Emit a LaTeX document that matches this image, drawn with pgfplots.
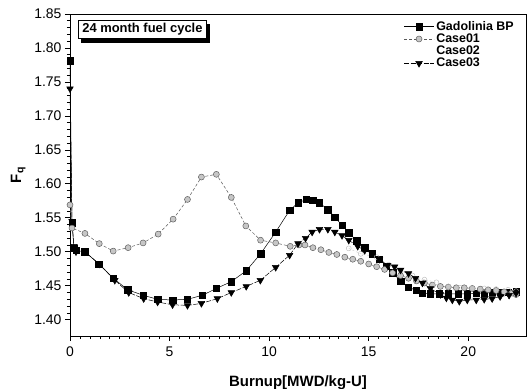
\documentclass[border=0pt]{standalone}
\usepackage{pgfplots}
\pgfplotsset{compat=1.18}
\usepackage{fontspec}
\setmainfont{Liberation Sans}
\setsansfont{Liberation Sans}
\usetikzlibrary{shadows}

\pgfplotstableread{
x y
0 1.781
0.1 1.543
0.2 1.505
0.3 1.502
0.75 1.500
1.45 1.482
2.17 1.461
2.9 1.444
3.67 1.436
4.4 1.430
5.15 1.429
5.9 1.430
6.65 1.436
7.35 1.446
8.1 1.456
8.85 1.472
9.57 1.497
10.33 1.529
11.03 1.561
11.45 1.572
11.87 1.577
12.2 1.576
12.53 1.572
12.95 1.562
13.3 1.551
13.66 1.539
14.0 1.528
14.4 1.516
14.8 1.506
15.17 1.497
15.54 1.489
15.88 1.479
16.2 1.469
16.6 1.457
17.0 1.448
17.38 1.443
17.7 1.439
18.1 1.438
18.55 1.438
19.0 1.438
19.5 1.438
19.95 1.438
20.4 1.439
20.8 1.439
21.2 1.440
21.6 1.440
22.0 1.440
22.4 1.441
}\gadolinia

\pgfplotstableread{
x y
0 1.569
0.1 1.535
0.75 1.527
1.47 1.512
2.17 1.501
2.92 1.506
3.67 1.513
4.43 1.526
5.18 1.548
5.9 1.577
6.6 1.610
7.35 1.614
8.1 1.580
8.83 1.538
9.57 1.517
10.33 1.513
11.06 1.508
11.5 1.510
11.8 1.510
12.2 1.506
12.6 1.503
13.0 1.499
13.4 1.496
13.8 1.492
14.2 1.489
14.6 1.486
15.0 1.482
15.4 1.478
15.8 1.474
16.2 1.469
16.6 1.465
17.0 1.461
17.4 1.457
17.8 1.454
18.2 1.451
18.6 1.449
19.0 1.448
19.4 1.447
19.8 1.447
20.2 1.446
20.6 1.445
21.0 1.444
21.4 1.443
21.8 1.441
22.2 1.439
22.4 1.437
}\caseone

\pgfplotstableread{
x y
14.0 1.505
14.6 1.497
15.4 1.492
16.0 1.481
16.6 1.472
17.2 1.465
17.8 1.459
18.4 1.455
19.0 1.449
19.6 1.447
20.2 1.446
20.8 1.446
21.4 1.445
22.0 1.444
22.4 1.442
}\casetwo

\pgfplotstableread{
x y
0 1.740
0.1 1.545
0.2 1.508
0.3 1.500
0.75 1.500
1.47 1.482
2.25 1.458
2.95 1.440
3.7 1.431
4.4 1.426
5.15 1.422
5.9 1.421
6.6 1.424
7.4 1.431
8.1 1.440
8.85 1.449
9.56 1.458
10.33 1.477
11.03 1.495
11.45 1.512
11.83 1.520
12.16 1.529
12.53 1.533
12.95 1.533
13.3 1.529
13.66 1.524
14.0 1.517
14.45 1.508
14.8 1.502
15.17 1.498
15.54 1.489
15.95 1.480
16.3 1.478
16.6 1.473
17.0 1.468
17.35 1.461
17.7 1.454
18.1 1.446
18.6 1.437
18.9 1.432
19.2 1.429
19.55 1.427
19.95 1.429
20.4 1.429
20.8 1.430
21.2 1.431
21.6 1.434
22.05 1.436
22.4 1.439
}\casethree

\begin{document}
\begin{tikzpicture}
\begin{axis}[
    scale only axis,
    width=456bp, height=322bp,
    xmin=0, xmax=22.9,
    ymin=1.376, ymax=1.85,
    xtick={0,5,10,15,20},
    ytick={1.40,1.45,1.50,1.55,1.60,1.65,1.70,1.75,1.80,1.85},
    minor x tick num=9,
    minor y tick num=4,
    tick pos=left,
    tick align=outside,
    major tick length=5bp,
    minor tick length=3bp,
    every tick/.style={black, line width=0.7pt},
    axis line style={line width=1pt},
    yticklabel style={/pgf/number format/.cd, fixed, fixed zerofill, precision=2},
    /pgf/number format/assume math mode=true,
    ticklabel style={font=\fontsize{14}{16}\selectfont},
    xticklabel style={yshift=-2bp},
    xlabel={\textbf{Burnup[MWD/kg-U]}},
    ylabel={\textbf{F$_{\mathbf{q}}$}},
    label style={font=\fontsize{15}{17}\selectfont},
    xlabel style={yshift=-12bp},
    ylabel style={yshift=2bp},
    legend style={draw=none, fill=none, at={(rel axis cs:0.725,0.99)}, anchor=north west,
        font=\bfseries\fontsize{12.5}{14}\selectfont, row sep=-2bp},
    legend cell align=left,
    legend image code/.code={\draw[mark repeat=2, mark phase=2] plot coordinates {(0bp,0bp) (15bp,0bp) (30bp,0bp)};},
    clip=true,
]
\addplot[black, line width=0.5pt, mark=square*, mark size=3.2bp, mark options={solid, fill=black}]
    table[x=x, y=y] {\gadolinia};
\addlegendentry{Gadolinia BP}
\addplot[gray!70!black, line width=0.5pt, dash pattern=on 3bp off 2bp, mark=*, mark size=3bp,
    mark options={solid, fill=gray!45, draw=gray!75!black}]
    table[x=x, y=y] {\caseone};
\addlegendentry{Case01}
\addplot[gray!40, line width=0.4pt, dash pattern=on 2bp off 2bp, mark=o, mark size=2.5bp,
    mark options={solid, draw=gray!55, fill=white}, forget plot]
    table[x=x, y=y] {\casetwo};
\addlegendimage{empty legend}
\addlegendentry{Case02}
\addplot[black, line width=0.5pt, dash pattern=on 5bp off 1.5bp, mark=triangle*, mark size=3.8bp,
    mark options={solid, fill=black, rotate=180}]
    table[x=x, y=y] {\casethree};
\addlegendentry{Case03}
\node[draw=black, line width=0.7pt, fill=white, anchor=north west, inner xsep=4bp, inner ysep=3bp,
    font=\bfseries\fontsize{13}{15}\selectfont,
    drop shadow={shadow xshift=3bp, shadow yshift=-4bp, fill=black, opacity=1}]
    at (rel axis cs:0.0175,0.981) {24 month fuel cycle};
\end{axis}
\pgfresetboundingbox
\path[use as bounding box] (-70bp,-53bp) rectangle (457bp,336bp);
\end{tikzpicture}
\end{document}
